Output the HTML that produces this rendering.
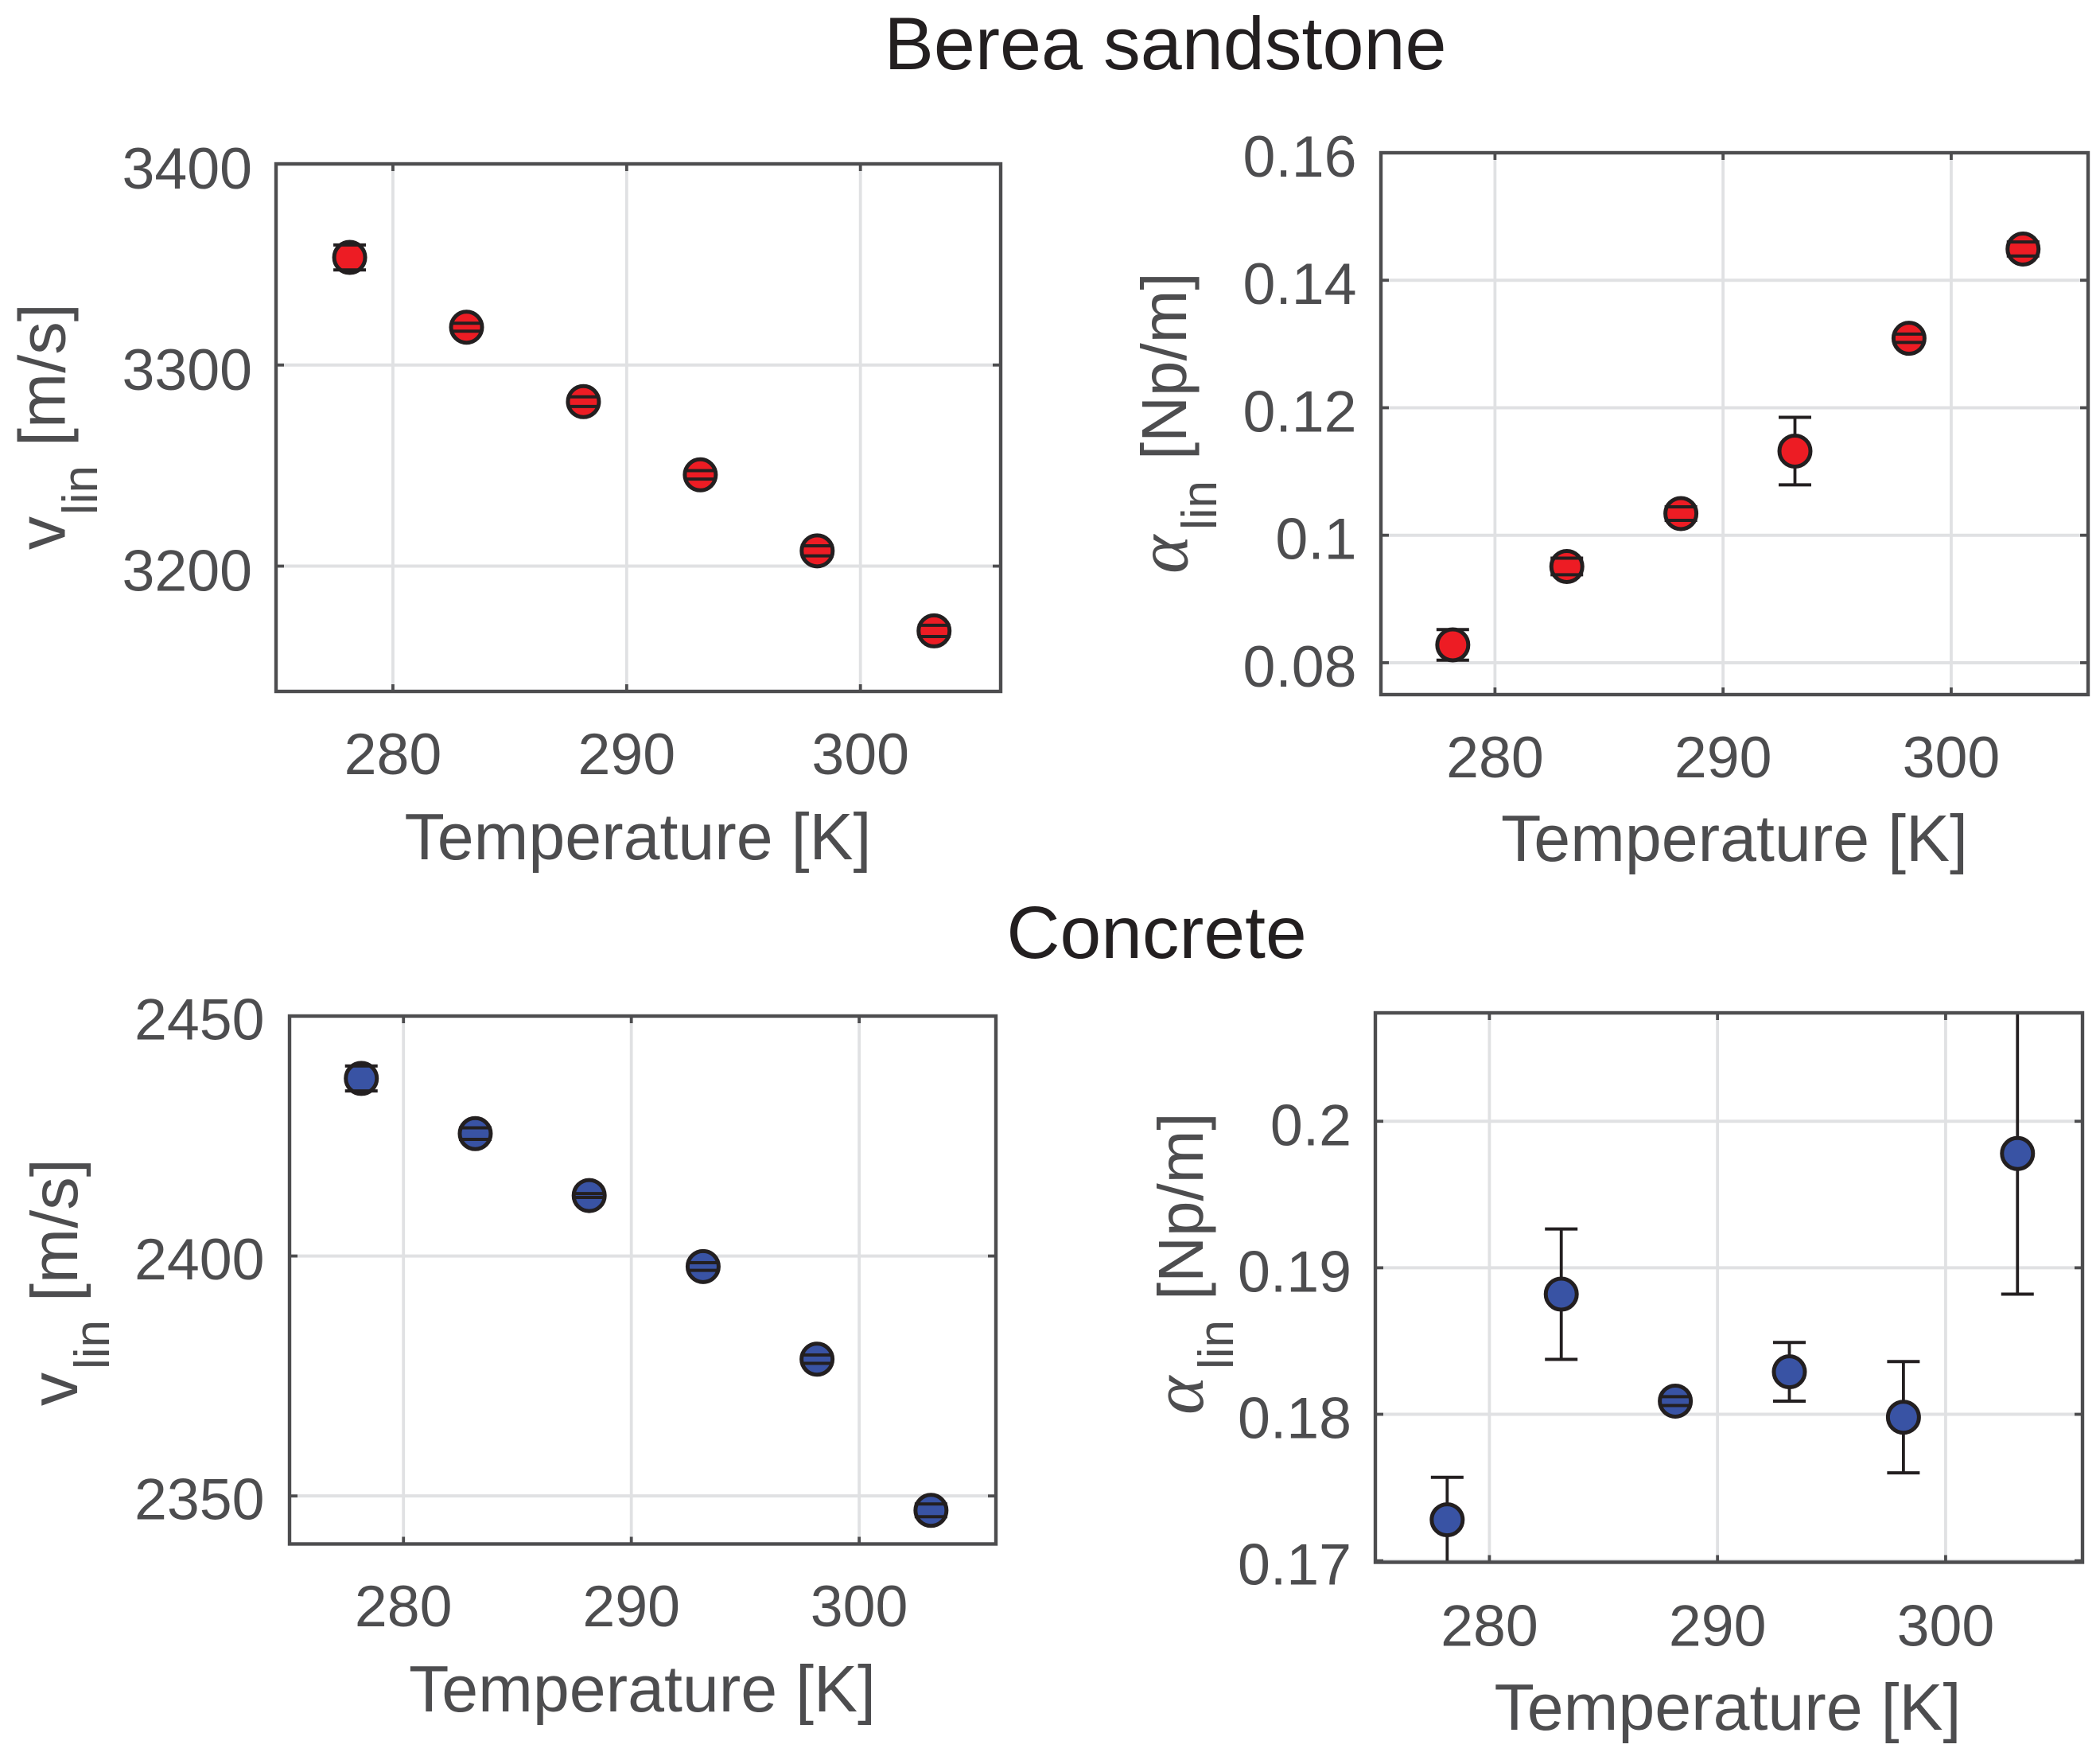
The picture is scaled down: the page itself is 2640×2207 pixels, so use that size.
<!DOCTYPE html>
<html lang="en">
<head>
<meta charset="utf-8">
<title>Berea sandstone and Concrete: velocity and attenuation vs temperature</title>
<style>
html,body{margin:0;padding:0;background:#fff;}
body{width:2640px;height:2207px;overflow:hidden;}
svg{display:block;}
text{font-family:"Liberation Sans",Arial,sans-serif;}
</style>
</head>
<body>
<svg id="figure" xmlns="http://www.w3.org/2000/svg" width="2640" height="2207" viewBox="0 0 2640 2207">
  <rect x="0" y="0" width="2640" height="2207" fill="#ffffff"/>
  <text x="1465" y="87" font-size="93.5" fill="#231f20" text-anchor="middle">Berea sandstone</text>
  <text x="1454" y="1204" font-size="93" fill="#231f20" text-anchor="middle">Concrete</text>
</svg>
<script>
// ---- data ----
const temperatures = [278.15, 283.15, 288.15, 293.15, 298.15, 303.15];

const bereaVelocity = [3353.5, 3318.8, 3281.8, 3245.4, 3207.6, 3167.8];
const bereaVelocityErr = [6.2, 2.0, 2.4, 2.1, 2.5, 2.8];
const bereaAttenuation = [0.0828, 0.0951, 0.1034, 0.1132, 0.1309, 0.1449];
const bereaAttenuationErr = [0.0024, 0.0013, 0.00106, 0.0053, 0.00066, 0.0011];

const concreteVelocity = [2437, 2425.5, 2412.6, 2397.8, 2378.5, 2347];
const concreteVelocityErr = [2.6, 1.2, 0.4, 0.8, 0.87, 1.33];
const concreteAttenuation = [0.1728, 0.1882, 0.1809, 0.1829, 0.1798, 0.1978];
const concreteAttenuationErr = [0.0029, 0.00445, 0.0003, 0.002, 0.0038, 0.0096];

const xTicks = [280, 290, 300];
const xTickLabels = ['280', '290', '300'];
const velocityTicksBerea = [3200, 3300, 3400];
const velocityTickLabelsBerea = ['3200', '3300', '3400'];
const attenuationTicksBerea = [0.08, 0.1, 0.12, 0.14, 0.16];
const attenuationTickLabelsBerea = ['0.08', '0.1', '0.12', '0.14', '0.16'];
const velocityTicksConcrete = [2350, 2400, 2450];
const velocityTickLabelsConcrete = ['2350', '2400', '2450'];
const attenuationTicksConcrete = [0.17, 0.18, 0.19, 0.2];
const attenuationTickLabelsConcrete = ['0.17', '0.18', '0.19', '0.2'];

const xLimits = [275, 306];

// ---- panel layout ----
const RED = '#ed1c24', BLUE = '#3953a4', DARK = '#231f20', AXIS = '#4d4d4f', GRID = '#e0e1e3';
const NS = 'http://www.w3.org/2000/svg';
const fig = document.getElementById('figure');

function mk(parent, tag, attrs, txt) {
  const e = document.createElementNS(NS, tag);
  for (const k in attrs) e.setAttribute(k, attrs[k]);
  if (txt !== undefined) e.textContent = txt;
  parent.appendChild(e);
  return e;
}

const panels = [
  {id:'berea-velocity', box:[347,206,1258,869], ylim:[3137.7,3400], vals:bereaVelocity, errs:bereaVelocityErr,
   yt:velocityTicksBerea, ytl:velocityTickLabelsBerea, color:RED, kind:'v',
   xlabY:973, ylabX:317, ylabDy:31, tX:802, tY:1080,
   symX:81.6, symY:691, subX:122, subY:647, unitX:81.6, unitY:561, unit:'[m/s]', unitSize:83},
  {id:'berea-attenuation', box:[1736,192,2625,873], ylim:[0.075,0.16], vals:bereaAttenuation, errs:bereaAttenuationErr,
   yt:attenuationTicksBerea, ytl:attenuationTickLabelsBerea, color:RED, kind:'a',
   xlabY:977, ylabX:1705.5, ylabDy:30, tX:2180.5, tY:1082,
   symX:1492.6, symY:721, subX:1529, subY:666, unitX:1491, unitY:578, unit:'[Np/m]', unitSize:80},
  {id:'concrete-velocity', box:[364,1277,1252,1940.5], ylim:[2340,2450], vals:concreteVelocity, errs:concreteVelocityErr,
   yt:velocityTicksConcrete, ytl:velocityTickLabelsConcrete, color:BLUE, kind:'v',
   xlabY:2044, ylabX:332.5, ylabDy:29.5, tX:807.5, tY:2151,
   symX:96.8, symY:1767, subX:137, subY:1721, unitX:96.8, unitY:1636, unit:'[m/s]', unitSize:83},
  {id:'concrete-attenuation', box:[1729,1273,2618,1963.5], ylim:[0.1699,0.2074], vals:concreteAttenuation, errs:concreteAttenuationErr,
   yt:attenuationTicksConcrete, ytl:attenuationTickLabelsConcrete, color:BLUE, kind:'a',
   xlabY:2068.5, ylabX:1699, ylabDy:30, tX:2172, tY:2174,
   symX:1512, symY:1778, subX:1550, subY:1721, unitX:1512, unitY:1634, unit:'[Np/m]', unitSize:80}
];

panels.forEach(function (p) {
  const [L, T, R, B] = p.box;
  const xs = v => L + (v - xLimits[0]) / (xLimits[1] - xLimits[0]) * (R - L);
  const ys = v => B - (v - p.ylim[0]) / (p.ylim[1] - p.ylim[0]) * (B - T);

  const g = mk(fig, 'g', {});
  
  

  // grid lines
  xTicks.forEach(function (t) {
    const gl = mk(g, 'line', {x1:xs(t), x2:xs(t), y1:T, y2:B, stroke:GRID, 'stroke-width':3.8});
    
    
  });
  p.yt.forEach(function (t) {
    const gl = mk(g, 'line', {x1:L, x2:R, y1:ys(t), y2:ys(t), stroke:GRID, 'stroke-width':4});
    
    
  });

  // tick marks
  xTicks.forEach(function (t) {
    const a = mk(g, 'line', {x1:xs(t), x2:xs(t), y1:B, y2:B - 9, stroke:AXIS, 'stroke-width':3.8});
    
    
    const b = mk(g, 'line', {x1:xs(t), x2:xs(t), y1:T, y2:T + 9, stroke:AXIS, 'stroke-width':3.8});
    
    
  });
  p.yt.forEach(function (t) {
    const a = mk(g, 'line', {x1:L, x2:L + 10, y1:ys(t), y2:ys(t), stroke:AXIS, 'stroke-width':3.8});
    
    
    const b = mk(g, 'line', {x1:R, x2:R - 10, y1:ys(t), y2:ys(t), stroke:AXIS, 'stroke-width':3.8});
    
    
  });

  // error bars and markers
  const hw = 20.5;
  temperatures.forEach(function (t, i) {
    const cx = xs(t), cy = ys(p.vals[i]);
    const top = Math.max(T, ys(p.vals[i] + p.errs[i]));
    const bot = Math.min(B, ys(p.vals[i] - p.errs[i]));
    const stem = mk(g, 'line', {x1:cx, x2:cx, y1:top, y2:bot, stroke:DARK, 'stroke-width':3.8});
    
    
    const dot = mk(g, 'circle', {cx:cx, cy:cy, r:19.5, fill:p.color, stroke:DARK, 'stroke-width':5});
    
    
    const c1 = mk(g, 'line', {x1:cx - hw, x2:cx + hw, y1:top, y2:top, stroke:DARK, 'stroke-width':4});
    
    
    const c2 = mk(g, 'line', {x1:cx - hw, x2:cx + hw, y1:bot, y2:bot, stroke:DARK, 'stroke-width':4});
    
    
  });

  // axes box
  const box = mk(g, 'rect', {x:L, y:T, width:R - L, height:B - T, fill:'none', stroke:AXIS, 'stroke-width':4.4});
  
  

  // tick labels
  xTicks.forEach(function (t, i) {
    const lab = mk(g, 'text', {x:xs(t), y:p.xlabY, 'font-size':73.5, fill:AXIS, 'text-anchor':'middle'}, xTickLabels[i]);
    
    
  });
  p.yt.forEach(function (t, i) {
    const lab = mk(g, 'text', {x:p.ylabX, y:ys(t) + p.ylabDy, 'font-size':73.5, fill:AXIS, 'text-anchor':'end'}, p.ytl[i]);
    
    
  });

  // axis titles
  const xt = mk(g, 'text', {x:p.tX, y:p.tY, 'font-size':82.5, fill:AXIS, 'text-anchor':'middle'}, 'Temperature [K]');
  
  

  const sym = mk(g, 'text', {transform:'translate(' + p.symX + ',' + p.symY + ') rotate(-90)', 'font-size':p.kind === 'v' ? 84 : 92, fill:AXIS}, p.kind === 'v' ? 'v' : 'α');
  if (p.kind === 'a') { sym.setAttribute('font-style', 'italic'); sym.style.fontFamily = '"Liberation Serif",serif'; }
  
  

  const sub = mk(g, 'text', {transform:'translate(' + p.subX + ',' + p.subY + ') rotate(-90)', 'font-size':62, fill:AXIS}, 'lin');
  
  

  const unit = mk(g, 'text', {transform:'translate(' + p.unitX + ',' + p.unitY + ') rotate(-90)', 'font-size':p.unitSize, fill:AXIS}, p.unit);
  
  
});
</script>
</body>
</html>
